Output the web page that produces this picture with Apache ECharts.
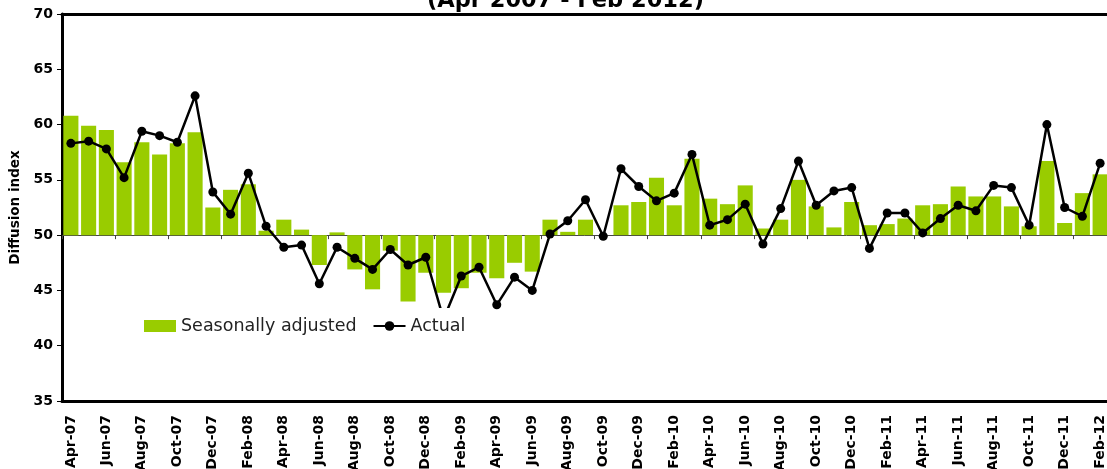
<!DOCTYPE html>
<html>
<head>
<meta charset="utf-8">
<script src="https://cdn.jsdelivr.net/npm/echarts@6/dist/echarts.min.js"></script>
<style>html,body{margin:0;padding:0;background:#fff}#c{width:1107px;height:469px}</style>
</head>
<body>
<div id="c"></div>
<script>
const categories = ["Apr-07","May-07","Jun-07","Jul-07","Aug-07","Sep-07","Oct-07","Nov-07","Dec-07","Jan-08","Feb-08","Mar-08",
"Apr-08","May-08","Jun-08","Jul-08","Aug-08","Sep-08","Oct-08","Nov-08","Dec-08","Jan-09","Feb-09","Mar-09",
"Apr-09","May-09","Jun-09","Jul-09","Aug-09","Sep-09","Oct-09","Nov-09","Dec-09","Jan-10","Feb-10","Mar-10",
"Apr-10","May-10","Jun-10","Jul-10","Aug-10","Sep-10","Oct-10","Nov-10","Dec-10","Jan-11","Feb-11","Mar-11",
"Apr-11","May-11","Jun-11","Jul-11","Aug-11","Sep-11","Oct-11","Nov-11","Dec-11","Jan-12","Feb-12"];
const seasonallyAdjusted = [60.8,59.9,59.5,56.6,58.4,57.3,58.3,59.3,52.5,54.1,54.6,50.4,
51.4,50.5,47.3,50.25,46.9,45.1,48.6,44.0,46.6,44.8,45.2,46.6,
46.1,47.5,46.7,51.4,50.3,51.4,50.0,52.7,53.0,55.2,52.7,56.9,
53.3,52.8,54.5,50.6,51.4,55.0,52.6,50.7,53.0,50.9,51.0,51.5,
52.7,52.8,54.4,53.5,53.5,52.6,50.8,56.7,51.1,53.8,55.5];
const actual = [58.3,58.5,57.8,55.2,59.4,59.0,58.4,62.6,53.9,51.9,55.6,50.8,
48.9,49.1,45.6,48.9,47.9,46.9,48.7,47.3,48.0,42.4,46.3,47.1,
43.7,46.2,45.0,50.1,51.3,53.2,49.9,56.0,54.4,53.1,53.8,57.3,
50.9,51.4,52.8,49.2,52.4,56.7,52.7,54.0,54.3,48.8,52.0,52.0,
50.2,51.5,52.7,52.2,54.5,54.3,50.9,60.0,52.5,51.7,56.5];
const BASE = 50;
const yMin = 35, yMax = 70, yStep = 5;
const font = "'DejaVu Sans', Verdana, sans-serif";

const chart = echarts.init(document.getElementById('c'), null, {renderer:'canvas'});
chart.setOption({
  animation: false,
  backgroundColor: '#fff',
  title: {
    text: '(Apr 2007 - Feb 2012)',
    left: 422, top: -15,
    textStyle: {fontFamily: font, fontWeight: 'bold', fontSize: 22.5, color: '#000'}
  },
  legend: {
    left: 140, top: 308,
    backgroundColor: '#fff',
    padding: [9, 6, 6, 4],
    itemWidth: 32, itemHeight: 12, itemGap: 16,
    textStyle: {fontFamily: font, fontSize: 17.5, color: '#222'},
    data: [
      {name: 'Seasonally adjusted', icon: 'rect'},
      {name: 'Actual'}
    ]
  },
  grid: {
    left: 62, top: 14, right: -2, bottom: 68,
    containLabel: false,
    outerBoundsMode: 'none',
    show: false
  },
  xAxis: [
    {
      type: 'category', data: categories, boundaryGap: true,
      axisLine: {onZero: true, lineStyle: {color: '#444', width: 1}},
      axisTick: {show: true, length: 4, lineStyle: {color: '#444'}},
      axisLabel: {show: false}
    },
    {
      type: 'category', data: categories, boundaryGap: true, position: 'bottom',
      axisLine: {show: true, onZero: false, lineStyle: {color: '#000', width: 3}},
      axisTick: {show: false},
      axisLabel: {interval: 1, rotate: 90, margin: 14, fontFamily: font, fontWeight: 'bold', fontSize: 14, color: '#000'}
    },
    {
      type: 'category', data: categories, boundaryGap: true, position: 'top',
      axisLine: {show: true, onZero: false, lineStyle: {color: '#000', width: 3}},
      axisTick: {show: false},
      axisLabel: {show: false}
    }
  ],
  yAxis: {
    type: 'value', min: yMin - BASE, max: yMax - BASE, interval: yStep,
    name: 'Diffusion index', nameLocation: 'middle', nameGap: 40,
    nameTextStyle: {fontFamily: font, fontWeight: 'bold', fontSize: 13.5, color: '#000'},
    axisLine: {show: true, onZero: false, lineStyle: {color: '#000', width: 3}},
    axisTick: {show: true, length: 5, lineStyle: {color: '#000', width: 1}},
    splitLine: {show: false},
    axisLabel: {formatter: v => String(v + BASE), margin: 9, fontFamily: font, fontWeight: 'bold', fontSize: 14, color: '#000'}
  },
  series: [
    {
      name: 'Seasonally adjusted', type: 'bar', xAxisIndex: 0,
      data: seasonallyAdjusted.map(v => +(v - BASE).toFixed(2)),
      barCategoryGap: '15%',
      itemStyle: {color: '#99cc00'}
    },
    {
      name: 'Actual', type: 'line', xAxisIndex: 0,
      data: actual.map(v => +(v - BASE).toFixed(2)),
      symbol: 'circle', symbolSize: 9,
      lineStyle: {color: '#000', width: 2.5},
      itemStyle: {color: '#000'}
    }
  ]
});
</script>
</body>
</html>
